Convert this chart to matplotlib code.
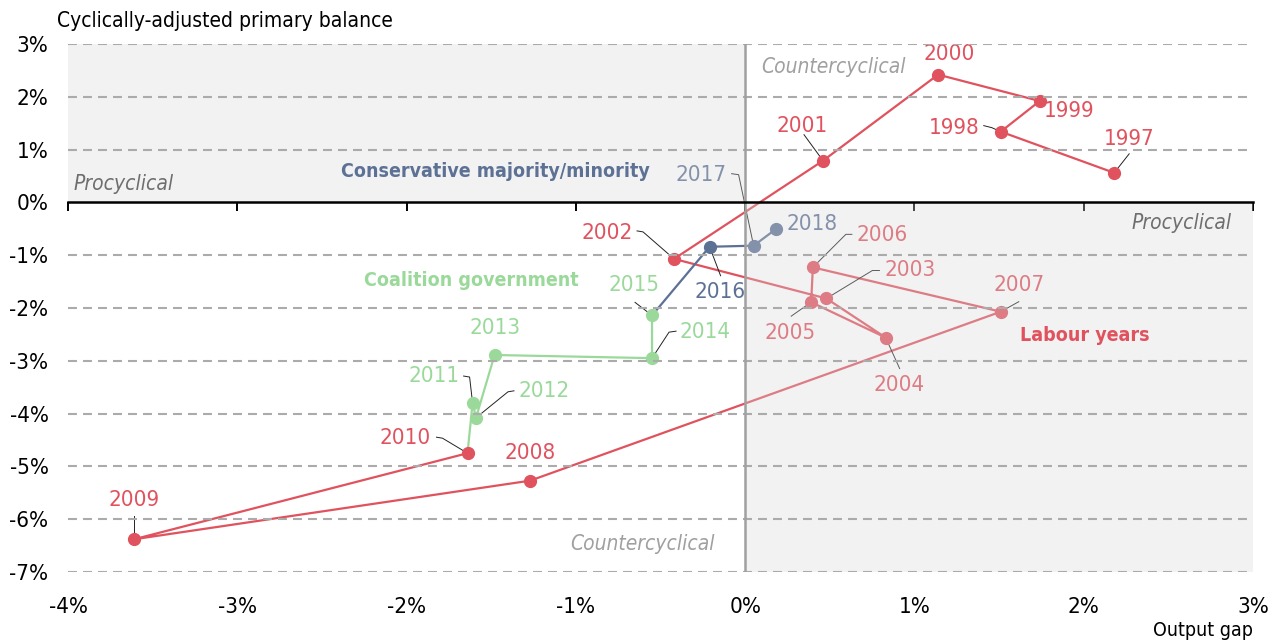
import matplotlib.pyplot as plt
from matplotlib.patches import Rectangle

plt.rcParams['font.family'] = ['DejaVu Sans']
plt.rcParams['font.stretch'] = 'condensed'

# Datos
years = list(range(1997, 2019))
output_gap = [2.18, 1.51, 1.74, 1.14, 0.46, -0.42, 0.48, 0.83, 0.39, 0.40, 1.51,
              -1.27, -3.61, -1.64, -1.61, -1.59, -1.48, -0.55, -0.55, -0.21, 0.05, 0.18]
primary_balance = [0.56, 1.34, 1.92, 2.42, 0.79, -1.07, -1.82, -2.56, -1.89, -1.23, -2.07,
                   -5.27, -6.38, -4.75, -3.80, -4.08, -2.89, -2.95, -2.14, -0.84, -0.82, -0.51]
labour_years = years[:14]        # 1997-2010
coalition_years = years[13:19]   # 2010-2015
conservative_years = years[18:]  # 2015-2018

x_ticks = [-4, -3, -2, -1, 0, 1, 2, 3]
y_ticks = [3, 2, 1, 0, -1, -2, -3, -4, -5, -6, -7]

RED = '#E0525E'
GREEN = '#9BD99B'
BLUE = '#5D7195'

# posiciones de las etiquetas (pixeles: texto, quiebres de la línea guía)
label_pos = {
    1997: ((15, -34), [(15, -19)]),
    1998: ((-47, -4), [(-17, -6), (-9, -4)]),
    1999: ((29, 10), []),
    2000: ((11, -21), []),
    2001: ((-21, -35), [(-19, -26)]),
    2002: ((-67, -26), [(-37, -28), (-31, -27)]),
    2003: ((84, -28), [(53, -28), (46, -28)]),
    2004: ((13, 47), [(14, 31)]),
    2005: ((-21, 31), [(-20, 14)]),
    2006: ((69, -32), [(39, -33), (33, -33)]),
    2007: ((18, -27), [(18, -10)]),
    2008: ((0, -28), []),
    2009: ((0, -39), [(0, -23)]),
    2010: ((-62, -15), [(-31, -16), (-25, -15)]),
    2011: ((-39, -27), [(-9, -27), (-3, -26)]),
    2012: ((68, -27), [(38, -27), (32, -26)]),
    2013: ((0, -27), []),
    2014: ((53, -26), [(24, -27), (17, -26)]),
    2015: ((-18, -30), [(-17, -13)]),
    2016: ((10, 45), [(11, 29)]),
    2017: ((-53, -71), [(-22, -72), (-15, -71)]),
    2018: ((36, -5), []),
}

fig = plt.figure(figsize=(12.77, 6.41), dpi=100)
ax = fig.add_axes([68 / 1277, 1 - 572 / 641, (1253 - 68) / 1277, (572 - 44) / 641])
ax.set_xlim(-4, 3)
ax.set_ylim(-7, 3)


def series_color(year):
    if year <= 2010:
        return RED
    if year <= 2015:
        return GREEN
    return BLUE


def px_to_data(x, y, dx, dy):
    disp = ax.transData.transform((x, y))
    return ax.transData.inverted().transform((disp[0] + dx, disp[1] - dy))


# líneas de cuadrícula
for yt in y_ticks:
    if yt != 0:
        ax.axhline(yt, color='#ABABAB', lw=1.5, ls=(0, (4.3, 2.9)), zorder=5)

# trayectorias
for group, color in [(labour_years, RED), (coalition_years, GREEN), (conservative_years, BLUE)]:
    idx = [years.index(yr) for yr in group]
    ax.plot([output_gap[i] for i in idx], [primary_balance[i] for i in idx],
            color=color, lw=1.6, zorder=2)

for i, yr in enumerate(years):
    x, y = output_gap[i], primary_balance[i]
    c = series_color(yr)
    ax.plot(x, y, 'o', color=c, ms=8.5, zorder=3)
    (tx, ty), guide = label_pos[yr]
    ax.annotate(str(yr), xy=(x, y), xytext=(tx, -ty), textcoords='offset pixels',
                ha='center', va='center', fontsize=16, color=c, zorder=3)
    if guide:
        pts = [px_to_data(x, y, gx, gy) for gx, gy in guide] + [(x, y)]
        ax.plot([p[0] for p in pts], [p[1] for p in pts], color='#222222', lw=0.7, zorder=2.5)

# cuadrantes sombreados (capa semitransparente sobre los datos)
shade = dict(facecolor=(215 / 255, 215 / 255, 215 / 255), alpha=0.32, edgecolor='none', zorder=4)
ax.add_patch(Rectangle((-4, 0), 4, 3, **shade))
ax.add_patch(Rectangle((0, -7), 3, 7, **shade))

ax.plot([0, 0], [-7, 3], color='#A0A0A0', lw=1.8, zorder=6)

# eje horizontal en 0 con marcas
for s in ['top', 'right', 'left']:
    ax.spines[s].set_visible(False)
ax.spines['bottom'].set_position(('data', 0))
ax.spines['bottom'].set_linewidth(1.8)
ax.spines['bottom'].set_zorder(7)
ax.set_xticks(x_ticks)
ax.tick_params(axis='x', direction='out', length=6.5, width=1.4, labelbottom=False)
ax.set_yticks(y_ticks)
ax.set_yticklabels([f'{v}%' for v in y_ticks])
ax.tick_params(axis='y', length=0, pad=14, labelsize=16)

sec = ax.secondary_xaxis('bottom')
sec.set_xticks(x_ticks)
sec.set_xticklabels([f'{v}%' for v in x_ticks])
sec.tick_params(length=0, pad=18, labelsize=16)
sec.spines['bottom'].set_visible(False)

# textos
ax.text(-2.387, 0.576, 'Conservative majority/minority', color=BLUE, fontsize=14,
        fontweight='bold', ha='left', va='center', zorder=8)
ax.text(-1.618, -1.485, 'Coalition government', color=GREEN, fontsize=14,
        fontweight='bold', ha='center', va='center', zorder=8)
ax.text(2.008, -2.53, 'Labour years', color=RED, fontsize=14,
        fontweight='bold', ha='center', va='center', zorder=8)
ax.text(-3.97, 0.35, 'Procyclical', color='#6E6E6E', fontsize=15, style='italic',
        ha='left', va='center', zorder=8)
ax.text(2.876, -0.39, 'Procyclical', color='#6E6E6E', fontsize=15, style='italic',
        ha='right', va='center', zorder=8)
ax.text(0.094, 2.564, 'Countercyclical', color='#A0A0A0', fontsize=15, style='italic',
        ha='left', va='center', zorder=8)
ax.text(-0.609, -6.47, 'Countercyclical', color='#A0A0A0', fontsize=15, style='italic',
        ha='center', va='center', zorder=8)

fig.text(57 / 1277, 1 - 21 / 641, 'Cyclically-adjusted primary balance', fontsize=15,
         ha='left', va='center')
fig.text(1253 / 1277, 1 - 630 / 641, 'Output gap', fontsize=14, ha='right', va='center')

plt.savefig('out.png', dpi=100)
